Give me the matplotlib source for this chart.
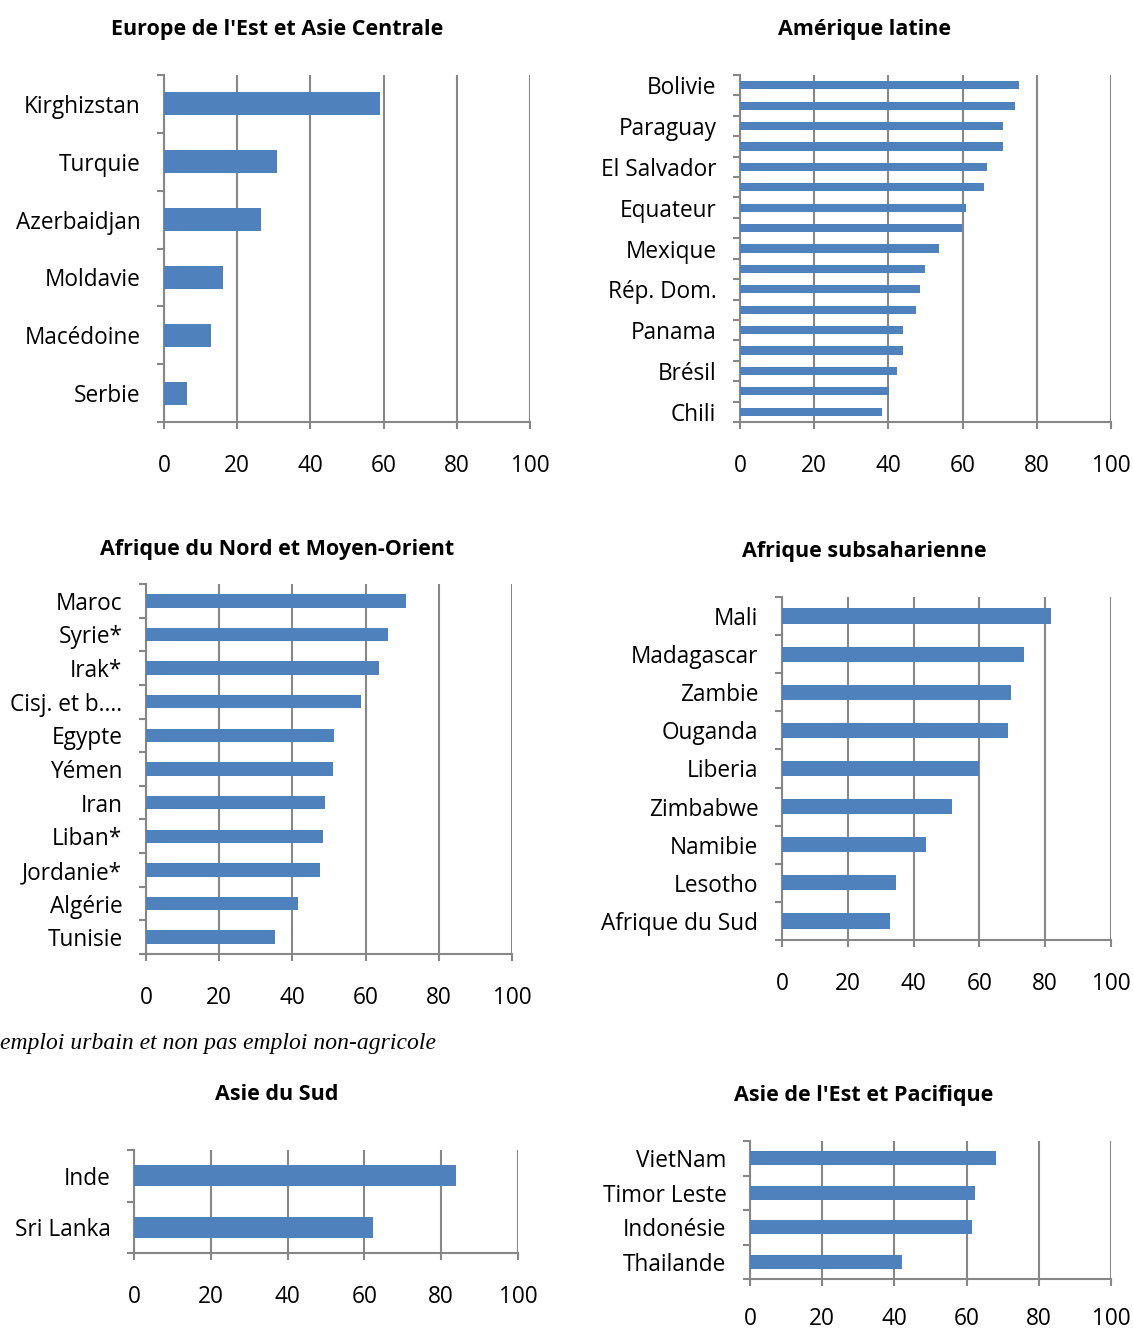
import matplotlib
matplotlib.use("Agg")
import matplotlib.pyplot as plt
import numpy as np

plt.rcParams['font.family'] = ['Open Sans', 'DejaVu Sans']

W, H = 1133, 1330

# ---- data ----
eur_labels = ["Kirghizstan", "Turquie", "Azerbaidjan", "Moldavie", "Macédoine", "Serbie"]
eur_values = [59.1, 30.8, 26.4, 16.0, 12.8, 6.2]

lat_labels = ["Bolivie", "", "Paraguay", "", "El Salvador", "", "Equateur", "", "Mexique", "",
              "Rép. Dom.", "", "Panama", "", "Brésil", "", "Chili"]
lat_values = [75.2, 74.1, 70.8, 70.8, 66.6, 65.8, 60.9, 59.9, 53.7, 49.9,
              48.5, 47.5, 44.0, 44.0, 42.4, 40.1, 38.3]

mena_labels = ["Maroc", "Syrie*", "Irak*", "Cisj. et b....", "Egypte", "Yémen", "Iran",
               "Liban*", "Jordanie*", "Algérie", "Tunisie"]
mena_values = [71.1, 66.1, 63.6, 58.7, 51.3, 51.0, 48.9, 48.3, 47.5, 41.4, 35.2]

ssa_labels = ["Mali", "Madagascar", "Zambie", "Ouganda", "Liberia", "Zimbabwe",
              "Namibie", "Lesotho", "Afrique du Sud"]
ssa_values = [81.9, 73.6, 69.6, 68.6, 60.0, 51.6, 43.9, 34.8, 32.7]

sa_labels = ["Inde", "Sri Lanka"]
sa_values = [83.8, 62.3]

eap_labels = ["VietNam", "Timor Leste", "Indonésie", "Thailande"]
eap_values = [68.2, 62.2, 61.6, 42.2]

x_ticks = [0, 20, 40, 60, 80, 100]

titles = ["Europe de l'Est et Asie Centrale", "Amérique latine",
          "Afrique du Nord et Moyen-Orient", "Afrique subsaharienne",
          "Asie du Sud", "Asie de l'Est et Pacifique"]
footnote = "emploi urbain et non pas emploi non-agricole"

BAR = "#4F81BD"
GRAY = "#878787"

fig = plt.figure(figsize=(W / 100, H / 100), dpi=100)


def px_axes(left, top, right, bottom):
    return fig.add_axes([left / W, 1 - bottom / H, (right - left) / W, (bottom - top) / H])


def panel(box, labels, values, title, title_xy, fs=16.3, xpad=18, ypad=13):
    ax = px_axes(*box)
    n = len(values)
    y = np.arange(n)
    ax.barh(y, values, height=0.4, color=BAR, zorder=3)
    ax.set_xlim(0, 100)
    ax.set_ylim(n - 0.5, -0.5)
    ax.set_xticks(x_ticks)
    ax.set_xticklabels([str(t) for t in x_ticks], fontsize=fs)
    ax.set_yticks(y)
    ax.set_yticklabels(labels, fontsize=fs)
    ax.set_yticks(np.arange(n + 1) - 0.5, minor=True)
    ax.tick_params(axis='y', which='major', length=0, pad=ypad + 4)
    ax.tick_params(axis='y', which='minor', length=5, width=1.5, color=GRAY, direction='out')
    ax.tick_params(axis='x', length=5, width=1.5, color=GRAY, direction='out', pad=xpad)
    for s in ['top', 'right']:
        ax.spines[s].set_visible(False)
    for s in ['left', 'bottom']:
        ax.spines[s].set_color(GRAY)
        ax.spines[s].set_linewidth(1.5)
    ax.grid(axis='x', color=GRAY, linewidth=1.5, zorder=0)
    ax.set_axisbelow(True)
    fig.text(title_xy[0] / W, 1 - (title_xy[1] + 3) / H, title, ha='center', va='center',
             fontsize=15.5, fontweight='bold')
    return ax


panel((164, 75, 530, 422), eur_labels, eur_values, titles[0], (277, 26))
panel((740, 75, 1111, 422), lat_labels, lat_values, titles[1], (864, 26))
panel((146, 584, 512, 954), mena_labels, mena_values, titles[2], (277, 546))
panel((782, 597, 1111, 940), ssa_labels, ssa_values, titles[3], (864, 548))
panel((134, 1150, 518, 1253), sa_labels, sa_values, titles[4], (277, 1092))
panel((750, 1141, 1111, 1279), eap_labels, eap_values, titles[5], (864, 1092), xpad=15)

fig.text(0 / W, 1 - 1044 / H, footnote, ha='left', va='center', fontsize=17,
         family=['Liberation Serif'], style='italic')

fig.savefig("out.png", dpi=100)
